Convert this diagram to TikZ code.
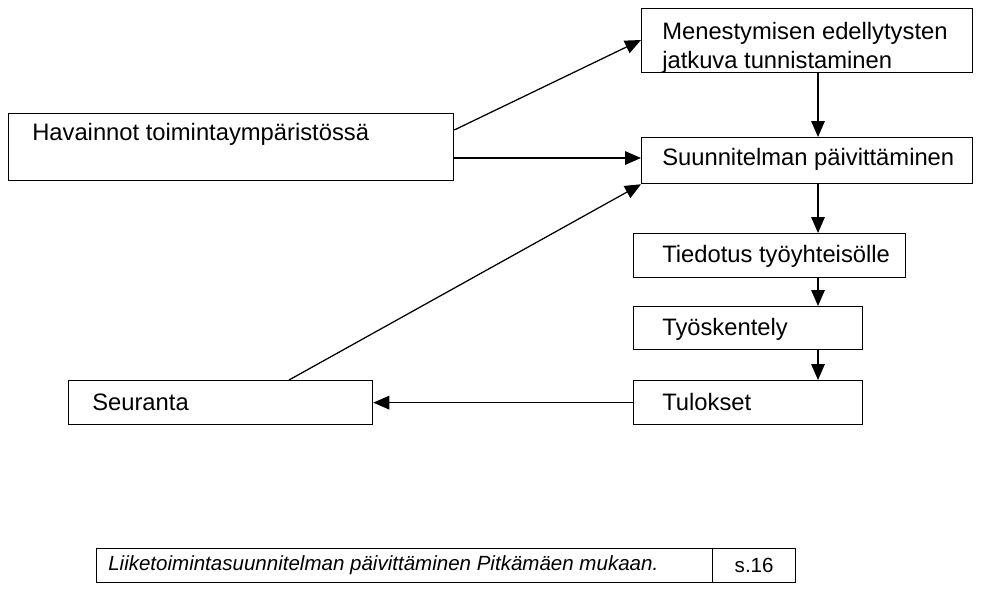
\documentclass[tikz,border=0pt]{standalone}
\usepackage{fontspec}
\setmainfont{Liberation Sans}
\usetikzlibrary{arrows.meta}

\begin{document}
\begin{tikzpicture}[x=0.025cm, y=-0.025cm,
  box/.style={draw, line width=0.9pt, anchor=north west, inner sep=0pt},
  boxtext/.style={anchor=west, inner sep=0pt, align=left, font=\fontsize{16.9}{20.6}\selectfont},
  flow/.style={-{Triangle[length=0.4cm, width=0.34cm]}, line width=0.9pt}]
  \useasboundingbox (0,0) rectangle (1001,607);
  % one box: name, left, top, right, bottom (px)
  \newcommand{\flowbox}[5]{\node[box, minimum width={(#4-#2)*0.025cm},
    minimum height={(#5-#3)*0.025cm}] (#1) at (#2,#3) {};}
  % right column
  \flowbox{tunnistus}{641}{8}{972}{72}
  \flowbox{paivitys}{641}{137}{972}{183}
  \flowbox{tiedotus}{633}{233}{905}{277}
  \flowbox{tyo}{633}{306}{862}{349}
  \flowbox{tulokset}{633}{380}{862}{424}
  % left side
  \flowbox{havainnot}{8}{113}{453}{180}
  \flowbox{seuranta}{68}{380}{372}{424}
  % texts
  \node[boxtext] (tunnistus-t) at (662,48) {Menestymisen edellytysten\\jatkuva tunnistaminen};
  \node[boxtext] (paivitys-t) at (662,159) {Suunnitelman päivittäminen};
  \node[boxtext] (tiedotus-t) at (662,256) {Tiedotus työyhteisölle};
  \node[boxtext] (tyo-t) at (662,329) {Työskentely};
  \node[boxtext] (tulokset-t) at (662,402) {Tulokset};
  \node[boxtext] (havainnot-t) at (32,134) {Havainnot toimintaympäristössä};
  \node[boxtext] (seuranta-t) at (92,402) {Seuranta};
  \coordinate (colx) at (818,0);
  % arrows down the column
  \draw[flow] (tunnistus.south -| colx) -- (paivitys.north -| colx);
  \draw[flow] (paivitys.south -| colx) -- (tiedotus.north -| colx);
  \draw[flow] (tiedotus.south -| colx) -- (tyo.north -| colx);
  \draw[flow] (tyo.south -| colx) -- (tulokset.north -| colx);
  \draw[flow] (tulokset.west) -- (seuranta.east);
  % from the left boxes
  \draw[flow] (havainnot.east |- 0,130) -- (tunnistus.west |- 0,40);
  \draw[flow] (havainnot.east |- 0,158) -- (paivitys.west |- 0,158);
  \draw[flow] (seuranta.north -| 289,0) -- (paivitys.south west);
  % source line
  \flowbox{lahde}{96}{548}{712}{582}
  \flowbox{sivu}{712}{548}{795}{582}
  \node[boxtext, font=\fontsize{14.6}{17}\selectfont\itshape] (lahde-t) at (108,565)
    {Liiketoimintasuunnitelman päivittäminen Pitkämäen mukaan.};
  \node[inner sep=0pt, font=\fontsize{14.6}{17}\selectfont] (sivu-t) at (sivu) {s.16};
\end{tikzpicture}
\end{document}
